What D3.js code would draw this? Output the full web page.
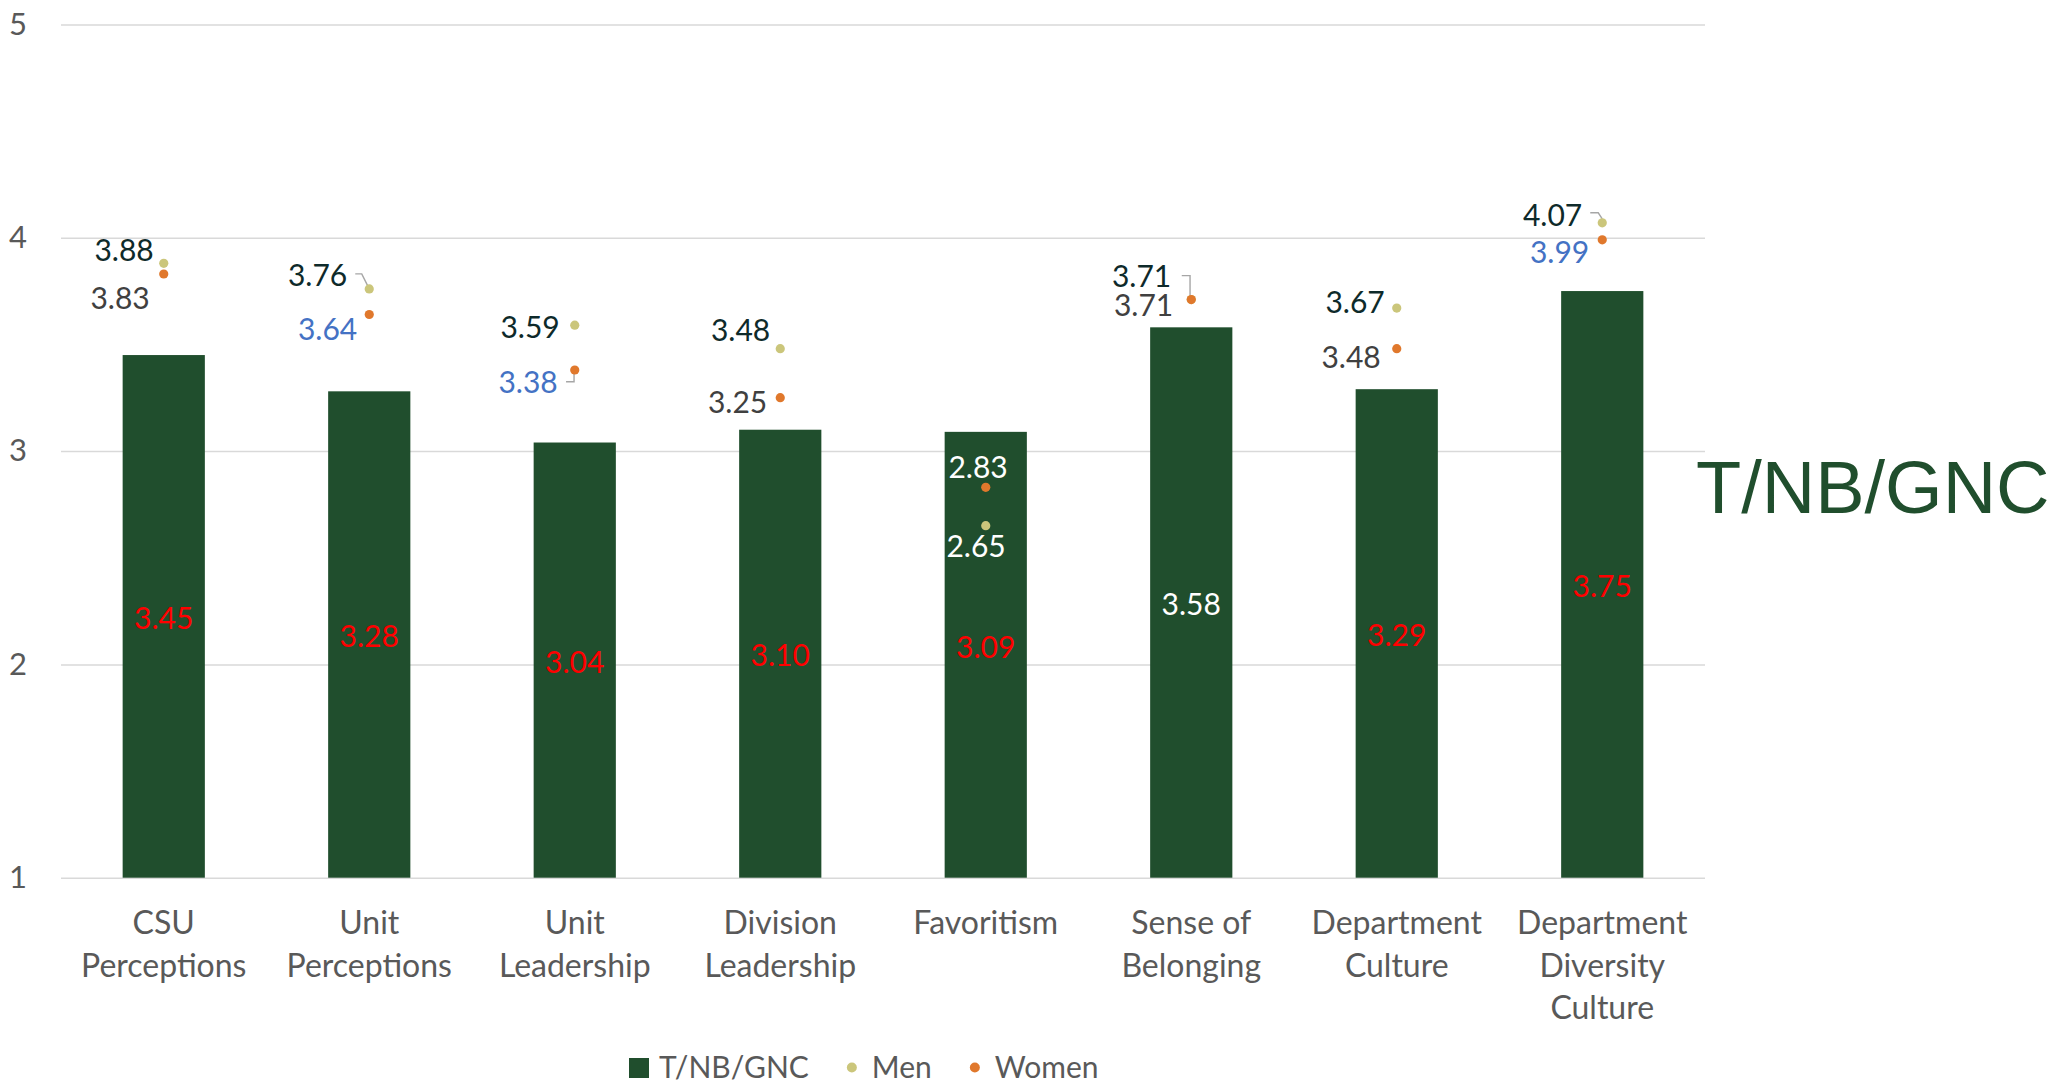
<!DOCTYPE html>
<html>
<head>
<meta charset="utf-8">
<script src="https://cdn.jsdelivr.net/npm/d3@7"></script>
<style>
  html, body { margin: 0; padding: 0; background: #ffffff; }
  svg { display: block; }
</style>
</head>
<body>
<svg id="chart" width="2059" height="1086"></svg>
<script>
// ---- data ----
const categories = [
  ["CSU", "Perceptions"],
  ["Unit", "Perceptions"],
  ["Unit", "Leadership"],
  ["Division", "Leadership"],
  ["Favoritism"],
  ["Sense of", "Belonging"],
  ["Department", "Culture"],
  ["Department", "Diversity", "Culture"]
];
const tnbValues   = [3.45, 3.28, 3.04, 3.10, 3.09, 3.58, 3.29, 3.75];
const menValues   = [3.88, 3.76, 3.59, 3.48, 2.65, 3.71, 3.67, 4.07];
const womenValues = [3.83, 3.64, 3.38, 3.25, 2.83, 3.71, 3.48, 3.99];
const yTicks = [1, 2, 3, 4, 5];
const seriesNames = ["T/NB/GNC", "Men", "Women"];
const chartTitle = "T/NB/GNC";

// ---- styling ----
const COLORS = { tnb: "#204E2D", men: "#CBC67B", women: "#E0782C" };
const GRID = "#D9D9D9";
const AXIS_TEXT = "#595959";
const FONT = "Lato, 'Open Sans', sans-serif";

// label colours per point
const tnbLabelColors   = ["#FF0000", "#FF0000", "#FF0000", "#FF0000", "#FF0000", "#FFFFFF", "#FF0000", "#FF0000"];
const menLabelColors   = ["#0E2A2A", "#0E2A2A", "#0E2A2A", "#0E2A2A", "#FFFFFF", "#0E2A2A", "#0E2A2A", "#0E2A2A"];
const womenLabelColors = ["#404040", "#4472C4", "#4472C4", "#404040", "#FFFFFF", "#404040", "#404040", "#4472C4"];

// bar label vertical nudge (px) from the bar's middle
const tnbLabelNudge = [0, 0, 0, 0, -9, 0, 0, 0];
// point label placement: [dx of text end, dy of baseline] relative to the point
const menLabelOffsets   = [[-10, -2], [-22, -3], [-15, 13], [-10, -8], [20, 31], [-20, -13], [-12, 5], [-20, 3]];
const womenLabelOffsets = [[-14, 35], [-12, 25], [-17, 23], [-13, 15], [22, -9], [-18, 16], [-16, 19], [-13, 23]];

// leader lines (relative to the point), keyed by category index
const menLeaders = {
  1: [[-14, -15], [-7.5, -15], [-1, -2]],
  5: [[-9.5, -24], [-1.2, -24], [-1.2, -4]],
  7: [[-12, -10], [-4, -10], [0, -4]]
};
const womenLeaders = {
  2: [[-8.7, 11.7], [-0.7, 11.7], [-0.7, 4]]
};

// ---- scales ----
const svg = d3.select("#chart");
const x = d3.scaleBand()
  .domain(d3.range(categories.length))
  .range([61, 1705])
  .paddingInner(0.6)
  .paddingOuter(0.3);
const y = d3.scaleLinear().domain([1, 5]).range([877.7, 24.4]);
const cx = i => x(i) + x.bandwidth() / 2;

// ---- gridlines + value axis ----
const yAxis = svg.append("g")
  .attr("transform", `translate(${x.range()[0]},0)`)
  .call(d3.axisLeft(y)
    .tickValues(yTicks)
    .tickFormat(d3.format("d"))
    .tickSize(-(x.range()[1] - x.range()[0]))
    .tickPadding(34));
yAxis.select(".domain").remove();
yAxis.selectAll(".tick line").attr("stroke", GRID).attr("stroke-width", 1.5);
yAxis.selectAll(".tick text")
  .attr("fill", AXIS_TEXT)
  .attr("font-family", FONT)
  .attr("font-size", 31);

// ---- bars ----
svg.append("g").selectAll("rect")
  .data(tnbValues)
  .join("rect")
  .attr("x", (d, i) => x(i))
  .attr("width", x.bandwidth())
  .attr("y", d => y(d))
  .attr("height", d => y(1) - y(d))
  .attr("fill", COLORS.tnb);

// ---- category axis ----
const xAxis = svg.append("g")
  .attr("transform", `translate(0,${y(1)})`)
  .call(d3.axisBottom(x).tickSize(0).tickFormat(""));
xAxis.select(".domain").remove();
xAxis.selectAll(".tick text").remove();
xAxis.selectAll(".tick").each(function (i) {
  const t = d3.select(this).append("text")
    .attr("fill", AXIS_TEXT)
    .attr("font-family", FONT)
    .attr("font-size", 32)
    .attr("text-anchor", "middle");
  categories[i].forEach((line, k) => {
    t.append("tspan").attr("x", 0).attr("y", 56.6 + k * 42.4).text(line);
  });
});

// ---- leader lines ----
const leaderLine = d3.line();
function drawLeaders(values, leaders) {
  Object.entries(leaders).forEach(([i, pts]) => {
    i = +i;
    const px = cx(i), py = y(values[i]);
    svg.append("path")
      .attr("d", leaderLine(pts.map(p => [px + p[0], py + p[1]])))
      .attr("fill", "none")
      .attr("stroke", "#A6A6A6")
      .attr("stroke-width", 1.4);
  });
}
drawLeaders(menValues, menLeaders);
drawLeaders(womenValues, womenLeaders);

// ---- dots ----
function drawDots(values, color) {
  svg.append("g").selectAll("circle")
    .data(values)
    .join("circle")
    .attr("cx", (d, i) => cx(i))
    .attr("cy", d => y(d))
    .attr("r", 4.6)
    .attr("fill", color);
}
drawDots(menValues, COLORS.men);
drawDots(womenValues, COLORS.women);

// ---- data labels ----
const fmt = d3.format(".2f");
svg.append("g").selectAll("text")
  .data(tnbValues)
  .join("text")
  .attr("x", (d, i) => cx(i))
  .attr("y", (d, i) => (y(d) + y(1)) / 2 + 12.5 + tnbLabelNudge[i])
  .attr("text-anchor", "middle")
  .attr("font-family", FONT)
  .attr("font-size", 30)
  .attr("fill", (d, i) => tnbLabelColors[i])
  .text(fmt);

function drawPointLabels(values, offsets, colors) {
  svg.append("g").selectAll("text")
    .data(values)
    .join("text")
    .attr("x", (d, i) => cx(i) + offsets[i][0])
    .attr("y", (d, i) => y(d) + offsets[i][1])
    .attr("text-anchor", "end")
    .attr("font-family", FONT)
    .attr("font-size", 30)
    .attr("fill", (d, i) => colors[i])
    .text(fmt);
}
drawPointLabels(menValues, menLabelOffsets, menLabelColors);
drawPointLabels(womenValues, womenLabelOffsets, womenLabelColors);

// ---- side title ----
svg.append("text")
  .attr("x", 1696)
  .attr("y", 513)
  .attr("font-family", "'Liberation Sans', Arial, sans-serif")
  .attr("font-size", 74)
  .attr("fill", COLORS.tnb)
  .text(chartTitle);

// ---- legend ----
const legend = svg.append("g").attr("transform", "translate(629,1068)");
let lx = 0;
const legendSymbols = ["square", "dot", "dot"];
const legendColors = [COLORS.tnb, COLORS.men, COLORS.women];
seriesNames.forEach((name, k) => {
  const item = legend.append("g").attr("transform", `translate(${lx},0)`);
  if (legendSymbols[k] === "square") {
    item.append("rect").attr("x", 0).attr("y", -10).attr("width", 20).attr("height", 20)
      .attr("fill", legendColors[k]);
  } else {
    item.append("circle").attr("cx", 10).attr("cy", -0.5).attr("r", 5)
      .attr("fill", legendColors[k]);
  }
  const t = item.append("text")
    .attr("x", 30)
    .attr("y", 10)
    .attr("font-family", FONT)
    .attr("font-size", 30)
    .attr("fill", AXIS_TEXT)
    .text(name);
  lx += 30 + t.node().getComputedTextLength() + 33;
});
</script>
</body>
</html>
